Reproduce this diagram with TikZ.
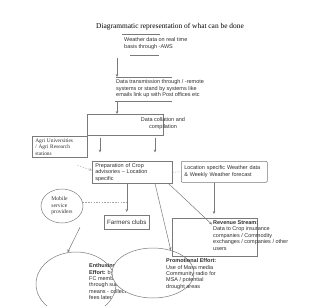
\documentclass[tikz,border=0pt]{standalone}
\usepackage{fontspec}
\setmainfont{Liberation Serif}
\setsansfont{Liberation Sans}
\usetikzlibrary{arrows.meta, calc, shapes.geometric}
\definecolor{linegray}{HTML}{7A7A7A}
\definecolor{textgray}{HTML}{2E2E2E}
\tikzset{
    txt/.style={inner sep=0pt, anchor=north west, align=left, text=textgray, font=\sffamily\fontsize{5.5}{6.4}\selectfont},
    serifsmall/.style={text=textgray, font=\rmfamily\fontsize{5.4}{6.5}\selectfont},
    frame/.style={rectangle, draw=linegray, line width=0.5pt, anchor=north west},
    boxtxt/.style={frame, align=left, inner xsep=3pt, inner ysep=0pt, text=textgray, font=\sffamily\fontsize{5.5}{6.4}\selectfont},
    rule/.style={draw=linegray, line width=0.5pt},
    bubble/.style={ellipse, draw=linegray, line width=0.5pt, inner sep=0pt},
    arrow/.style={-{Stealth[length=3pt, width=2.6pt]}, draw=linegray, line width=0.5pt},
    dashedarrow/.style={-{Stealth[length=3pt, width=2.6pt]}, draw=black!35, line width=0.4pt, dash pattern=on 1.5pt off 1.2pt},
    dashedline/.style={draw=black!35, line width=0.4pt, dash pattern=on 1.5pt off 1.2pt}
}

\begin{document}
\begin{tikzpicture}[x=1pt, y=-1pt]
    \useasboundingbox (0,0) rectangle (320,305);
    \clip (0,0) rectangle (320,305);
    % heading
    \node[font=\rmfamily\fontsize{7.4}{8}\selectfont] (title) at (170,27) {Diagrammatic representation of what can be done};
    % AWS data and transmission
    \node[txt] (weather) at (124,37.5) {Weather data on real time\\basis through -AWS};
    \draw[rule] (122,34) -- (160,34);
    \draw[rule] (130,55) -- (159,55);
    \coordinate (awsout) at (117,58);
    \coordinate (ttl) at (116,77);
    \coordinate (tbl) at (115,101);
    \draw[rule] (ttl) -- (172,77);
    \node[txt] (transmit) at (116,79.5) {Data transmission through / -remote\\systems or stand by systems like\\emails link up with Post offices etc};
    \draw[rule] (tbl) -- (172,101);
    \coordinate (tout) at (117,101);
    % collation
    \node[frame, minimum width=76pt, minimum height=21pt] (collation) at (87,114) {};
    \node[txt, anchor=center, align=center] (collationtxt) at (163,123.5) {Data collation and\\compilation};
    \node[frame, serifsmall, text width=49pt, align=left, inner xsep=3pt, inner ysep=0pt, minimum height=21pt] (agri) at (32,136) {Agri Universities\\/ Agri Research\\stations};
    % advisories
    \node[boxtxt, text width=74pt, minimum height=22pt] (prep) at (92,161) {Preparation of Crop\\advisories – Location\\specific};
    \node[boxtxt, text width=80pt, minimum height=21pt, rounded corners=1pt] (location) at (181,161) {Location specific Weather data\\\& Weekly Weather forecast};
    \node[frame, minimum width=45pt, minimum height=14pt, inner sep=0pt, text=textgray, font=\sffamily\fontsize{6.2}{7}\selectfont] (farmers) at (104,215) {Farmers clubs};
    \node[bubble, align=left, minimum width=42pt, minimum height=34pt, text=textgray, font=\rmfamily\fontsize{5.6}{6.6}\selectfont] (mobile) at (62,206) {Mobile\\service\\providers};
    % efforts
    \node[bubble, minimum width=80pt, minimum height=64pt] (enthuse) at (76,284) {};
    \node[txt] (enthtxt) at (89,263.5) {\textbf{Enthusing}\\\textbf{Effort:} by\\FC members\\through sub\\means - collect\\fees later};
    \node[bubble, fill=white, minimum width=82pt, minimum height=50pt] (promo) at (153,273) {};
    \node[txt] (promotxt) at (166,258.5) {\textbf{Promotional Effort:}\\Use of Mass media\\Community radio for\\MSA / potential\\drought areas};
    \node[frame, minimum width=85pt, minimum height=38pt] (revenue) at (172,218) {};
    \node[txt] (revtxt) at (213,220.5) {\textbf{Revenue Stream:}\\Data to Crop insurance\\companies / Commodity\\exchanges / companies / other\\users};
    % connectors
    \draw[arrow] (awsout) -- (awsout |- ttl);
    \draw[arrow] (tout) -- (tout |- collation.north);
    \draw[arrow] ($(collation.south west)+(13,2)$) -- ++(0,15);
    \draw[arrow] ($(collation.south west)+(68,2)$) -- ++(0,15);
    \draw[dashedarrow] ($(agri.south east)+(-10,8)$) -- ([yshift=2pt]prep.west);
    \draw[dashedline] (prep.east) -- (location.west);
    \draw[arrow] (prep.south -| farmers.north) -- ([yshift=3pt]farmers.north);
    \draw[arrow] ($(prep.south west)+(63,0)$) -- (promo.52);
    \draw[arrow] ($(prep.south east)+(-4,0)$) -- ($(revtxt.north west)+(-1,4)$);
    \draw[arrow] ($(location.south west)+(33,0)$) -- ($(revenue.north west)+(42,-4)$);
    \draw[dashedline] (mobile.10) -- (mobile.10 -| farmers.north);
    \draw[arrow] ($(mobile.south)+(18,4)$) -- (enthuse.105);
\end{tikzpicture}
\end{document}
